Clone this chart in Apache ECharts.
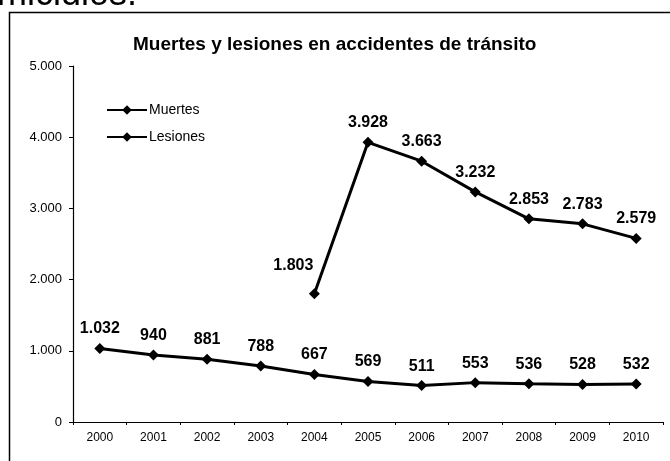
<!DOCTYPE html>
<html><head><meta charset="utf-8">
<script src="https://cdn.jsdelivr.net/npm/echarts@6/dist/echarts.min.js"></script>
<style>html,body{margin:0;padding:0;background:#fff}#c{width:670px;height:461px}</style>
</head><body><div id="c"></div>
<script>
const years = ['2000','2001','2002','2003','2004','2005','2006','2007','2008','2009','2010'];
const muertes = [1032, 940, 881, 788, 667, 569, 511, 553, 536, 528, 532];
const lesiones = [null, null, null, null, 1803, 3928, 3663, 3232, 2853, 2783, 2579];
const yTicks = [0, 1000, 2000, 3000, 4000, 5000];

function fmt(v){ return String(v).replace(/\B(?=(\d{3})+(?!\d))/g, '.'); }
const FF = '"Liberation Sans", Arial, sans-serif';

const chart = echarts.init(document.getElementById('c'), null, {renderer:'canvas'});
const lineStyle = {color:'#000', width:3};
const label = {show:true, position:'top', distance:6, color:'#000', fontFamily:FF, fontSize:16, fontWeight:'bold', formatter:p=>fmt(p.value)};
const lesionesData = lesiones.map((v,i)=> i===4 ? {value:v, label:{offset:[-21,-9]}} : v);
chart.setOption({
  animation:false,
  backgroundColor:'#fff',
  graphic:[
    {type:'rect', shape:{x:9.5, y:12.5, width:700, height:500}, style:{fill:'none', stroke:'#000', lineWidth:1.5}},
    {type:'text', x:-3, y:-5, style:{text:'micidios.', font:'36px "Liberation Sans", Arial, sans-serif', fill:'#000', verticalAlign:'middle'}}
  ],
  title:{text:'Muertes y lesiones en accidentes de tránsito', left:128, top:30,
    textStyle:{fontFamily:FF, fontSize:19, fontWeight:'bold', color:'#000'}},
  legend:{orient:'vertical', left:101, top:98, itemWidth:40, itemHeight:12, itemGap:13, itemStyle:{color:'#000'},
    textStyle:{fontFamily:FF, fontSize:14, color:'#000', padding:[0,0,0,-3]},
    data:['Muertes','Lesiones']},
  grid:{left:73, right:7, top:66, bottom:39},
  xAxis:{type:'category', data:years, boundaryGap:true,
    axisLine:{lineStyle:{color:'#000', width:1}},
    axisTick:{show:true, length:3, lineStyle:{color:'#000'}},
    axisLabel:{color:'#000', fontFamily:FF, fontSize:12, margin:10}},
  yAxis:{type:'value', min:yTicks[0], max:yTicks[yTicks.length-1], interval:1000,
    axisLine:{show:true, lineStyle:{color:'#000', width:1.2}},
    axisTick:{show:true, length:4, lineStyle:{color:'#000'}},
    splitLine:{show:false},
    axisLabel:{color:'#000', fontFamily:FF, fontSize:13, margin:11, formatter:v=>fmt(v)}},
  series:[
    {name:'Muertes', type:'line', data:muertes, symbol:'diamond', symbolSize:11, lineStyle, itemStyle:{color:'#000'}, label},
    {name:'Lesiones', type:'line', data:lesionesData, symbol:'diamond', symbolSize:11, lineStyle, itemStyle:{color:'#000'}, label}
  ]
});
</script></body></html>
